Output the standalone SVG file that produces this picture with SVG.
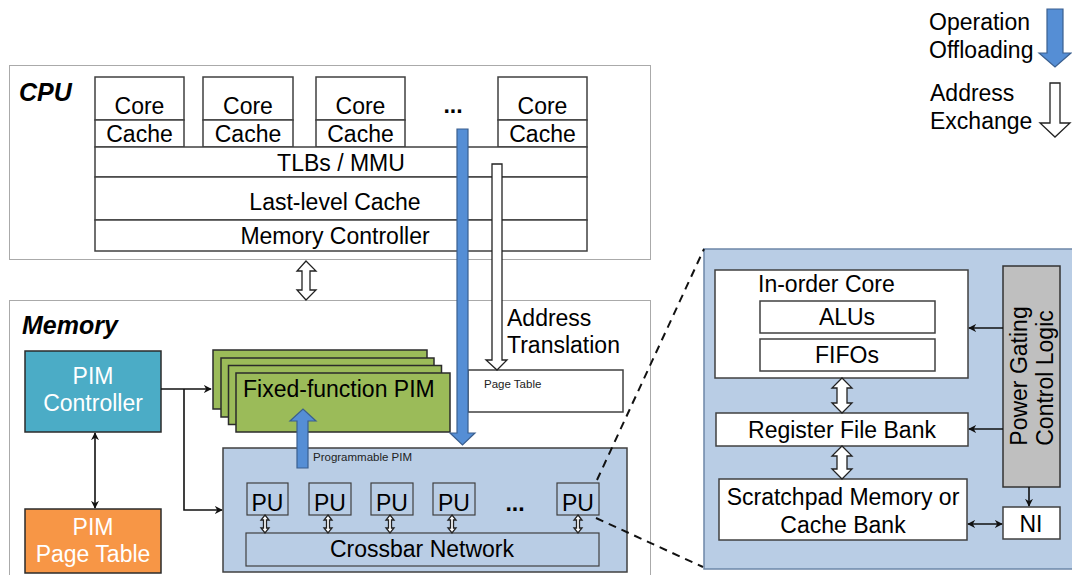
<svg xmlns="http://www.w3.org/2000/svg" width="1072" height="575" viewBox="0 0 1072 575">
<defs>
<style>
text{font-family:"Liberation Sans",Arial,sans-serif;fill:#000}
.t{font-size:23px}
.tm{text-anchor:middle}
.sm{font-size:11.5px;fill:#222}
.ttl{font-size:25px;font-weight:bold;font-style:italic}
.w{fill:#fff}
.box{fill:#fff;stroke:#404040;stroke-width:1.5}
.grp{fill:none;stroke:#555;stroke-width:1;stroke-dasharray:1 1}
.blue{fill:#558ED5;stroke:#3A5F8F;stroke-width:1.2}
.hollow{fill:#fff;stroke:#222;stroke-width:1.3}
.ln{fill:none;stroke:#111;stroke-width:1.6}
.dash{fill:none;stroke:#111;stroke-width:2;stroke-dasharray:8 6}
.green{fill:#9BBB59;stroke:#2b2b2b;stroke-width:1.5}
</style>
<marker id="ah" viewBox="0 0 10 10" refX="9" refY="5" markerWidth="8" markerHeight="8" orient="auto-start-reverse" markerUnits="userSpaceOnUse">
<path d="M0,0 L10,5 L0,10 L3,5 Z" fill="#111"/>
</marker>
</defs>

<rect x="0" y="0" width="1072" height="575" fill="#fff"/>

<!-- Legend -->
<g id="legend">
<text class="t" x="929" y="30">Operation</text>
<text class="t" x="929" y="58">Offloading</text>
<polygon class="blue" points="1047,9 1063,9 1063,53 1071,53 1055,67 1039,53 1047,53"/>
<text class="t" x="930" y="101">Address</text>
<text class="t" x="930" y="129">Exchange</text>
<polygon class="hollow" points="1050,83 1060,83 1060,123 1070,123 1055,137 1040,123 1050,123"/>
</g>

<!-- CPU -->
<g id="cpu">
<rect class="grp" x="9.5" y="65.5" width="641" height="194"/>
<text class="ttl" x="19" y="101">CPU</text>
<rect class="box" x="95" y="77" width="89" height="43"/>
<rect class="box" x="95" y="120" width="89" height="27"/>
<text class="t tm" x="139.5" y="114">Core</text>
<text class="t tm" x="139.5" y="141.5">Cache</text>
<rect class="box" x="203" y="77" width="90" height="43"/>
<rect class="box" x="203" y="120" width="90" height="27"/>
<text class="t tm" x="248" y="114">Core</text>
<text class="t tm" x="248" y="141.5">Cache</text>
<rect class="box" x="316" y="77" width="89" height="43"/>
<rect class="box" x="316" y="120" width="89" height="27"/>
<text class="t tm" x="360.5" y="114">Core</text>
<text class="t tm" x="360.5" y="141.5">Cache</text>
<text class="t tm" x="453" y="113" font-weight="bold">...</text>
<rect class="box" x="498" y="77" width="89" height="43"/>
<rect class="box" x="498" y="120" width="89" height="27"/>
<text class="t tm" x="542.5" y="114">Core</text>
<text class="t tm" x="542.5" y="141.5">Cache</text>
<rect class="box" x="95" y="147" width="492" height="30"/>
<text class="t tm" x="341" y="170.5">TLBs / MMU</text>
<rect class="box" x="95" y="177" width="492" height="43"/>
<text class="t tm" x="335" y="209.5">Last-level Cache</text>
<rect class="box" x="95" y="220" width="492" height="31"/>
<text class="t tm" x="335" y="243.5">Memory Controller</text>
</g>

<!-- Memory -->
<g id="memory">
<rect class="grp" x="9.5" y="300.5" width="641" height="290"/>
<text class="ttl" x="22" y="334">Memory</text>
</g>

<g id="pim-controller">
<rect x="25" y="351" width="136" height="81" fill="#4BACC6" stroke="#2b2b2b" stroke-width="1.5"/>
<text class="t tm w" x="93" y="384">PIM</text>
<text class="t tm w" x="93" y="411">Controller</text>
</g>

<g id="pim-page-table">
<rect x="25" y="509" width="136" height="64" fill="#F79646" stroke="#2b2b2b" stroke-width="1.5"/>
<text class="t tm w" x="93" y="535">PIM</text>
<text class="t tm w" x="93" y="562">Page Table</text>
</g>

<g id="fixed-function-pim">
<rect class="green" x="213" y="350" width="214" height="59"/>
<rect class="green" x="221" y="358" width="213" height="59"/>
<rect class="green" x="228.5" y="365.5" width="213" height="59"/>
<rect class="green" x="236" y="373" width="214" height="59"/>
<text class="t" x="243" y="397">Fixed-function PIM</text>
</g>

<g id="page-table">
<rect class="box" x="468" y="370" width="155" height="42" stroke-width="1.2"/>
<text class="sm" x="484" y="388">Page Table</text>
</g>

<g id="programmable-pim">
<rect x="223" y="448" width="404" height="124" fill="#B9CDE5" stroke="#404040" stroke-width="1.5"/>
<text class="sm" x="313" y="461">Programmable PIM</text>
<rect x="247" y="483" width="41" height="32" fill="none" stroke="#404040" stroke-width="1.2"/>
<text class="t tm" x="267.5" y="511">PU</text>
<rect x="309" y="483" width="42" height="32" fill="none" stroke="#404040" stroke-width="1.2"/>
<text class="t tm" x="330" y="511">PU</text>
<rect x="371" y="483" width="42" height="32" fill="none" stroke="#404040" stroke-width="1.2"/>
<text class="t tm" x="392" y="511">PU</text>
<rect x="433" y="483" width="42" height="32" fill="none" stroke="#404040" stroke-width="1.2"/>
<text class="t tm" x="454" y="511">PU</text>
<text class="t tm" x="515" y="511" font-weight="bold">...</text>
<rect x="557" y="483" width="42" height="32" fill="none" stroke="#404040" stroke-width="1.2"/>
<text class="t tm" x="578" y="511">PU</text>
<rect x="246" y="533" width="353" height="33" fill="none" stroke="#404040" stroke-width="1.2"/>
<text class="t tm" x="422" y="557">Crossbar Network</text>
</g>

<!-- Right detail panel -->
<g id="pu-detail">
<rect x="704" y="249" width="380" height="320" fill="#B9CDE5" stroke="#6D87A8" stroke-width="1.5"/>
</g>
<g id="in-order-core">
<rect class="box" x="715" y="270" width="253" height="108"/>
<text class="t" x="758" y="292">In-order Core</text>
<rect class="box" x="760" y="301" width="175" height="32"/>
<text class="t tm" x="847" y="325">ALUs</text>
<rect class="box" x="760" y="339" width="175" height="32"/>
<text class="t tm" x="847" y="363">FIFOs</text>
</g>
<g id="register-file">
<rect class="box" x="716" y="413" width="252" height="33"/>
<text class="t tm" x="842" y="438">Register File Bank</text>
</g>
<g id="scratchpad">
<rect class="box" x="719" y="479" width="248" height="61"/>
<text class="t tm" x="843" y="505">Scratchpad Memory or</text>
<text class="t tm" x="843" y="533">Cache Bank</text>
</g>
<g id="power-gating">
<rect x="1003" y="266" width="57" height="221" fill="#BFBFBF" stroke="#333" stroke-width="1.5"/>
<text class="t tm" transform="translate(1027,376) rotate(-90)">Power Gating</text>
<text class="t tm" transform="translate(1053,378) rotate(-90)">Control Logic</text>
</g>
<g id="ni">
<rect class="box" x="1003" y="507" width="57" height="32"/>
<text class="t tm" x="1031" y="532">NI</text>
</g>

<!-- Connectors -->
<g id="connectors">
<polygon class="hollow" points="306,261 316,271 310,271 310,290 316,290 306,300 297,290 302,290 302,271 297,271"/>
<polygon class="hollow" points="492,164 502,164 502,360 507,360 497,370 486,360 492,360"/>
<polygon class="blue" points="457,129 468,129 468,433 475,433 462.5,445 450,433 457,433"/>
<polygon class="blue" points="297,468 308,468 308,421 316,421 303,409 290,421 297,421"/>
<text class="t" x="507" y="326">Address</text>
<text class="t" x="507" y="353">Translation</text>
<path class="ln" d="M161,389 H211" marker-end="url(#ah)"/>
<path class="ln" d="M184,389 V510 H222" marker-end="url(#ah)"/>
<path class="ln" d="M95,433 V508" marker-start="url(#ah)" marker-end="url(#ah)"/>
<polygon class="hollow" points="265,515 269,520 266.5,520 266.5,528 269,528 265,533 261,528 263.5,528 263.5,520 261,520" stroke-width="1"/>
<polygon class="hollow" points="328,515 332,520 329.5,520 329.5,528 332,528 328,533 324,528 326.5,528 326.5,520 324,520" stroke-width="1"/>
<polygon class="hollow" points="390,515 394,520 391.5,520 391.5,528 394,528 390,533 386,528 388.5,528 388.5,520 386,520" stroke-width="1"/>
<polygon class="hollow" points="452,515 456,520 453.5,520 453.5,528 456,528 452,533 448,528 450.5,528 450.5,520 448,520" stroke-width="1"/>
<polygon class="hollow" points="578,515 582,520 579.5,520 579.5,528 582,528 578,533 574,528 576.5,528 576.5,520 574,520" stroke-width="1"/>
<path class="dash" d="M597,480 L704,249"/>
<path class="dash" d="M596,518 L703,567"/>
<polygon class="hollow" points="842,378 852,388 847,388 847,403 852,403 842,413 832,403 837,403 837,388 832,388"/>
<polygon class="hollow" points="842,446 852,456 847,456 847,469 852,469 842,479 832,469 837,469 837,456 832,456"/>
<path class="ln" d="M1003,328 H969" marker-end="url(#ah)"/>
<path class="ln" d="M1003,429 H969" marker-end="url(#ah)"/>
<path class="ln" d="M1029,487 V506" marker-end="url(#ah)"/>
<path class="ln" d="M968,524 H1002" marker-start="url(#ah)" marker-end="url(#ah)"/>
</g>
</svg>
